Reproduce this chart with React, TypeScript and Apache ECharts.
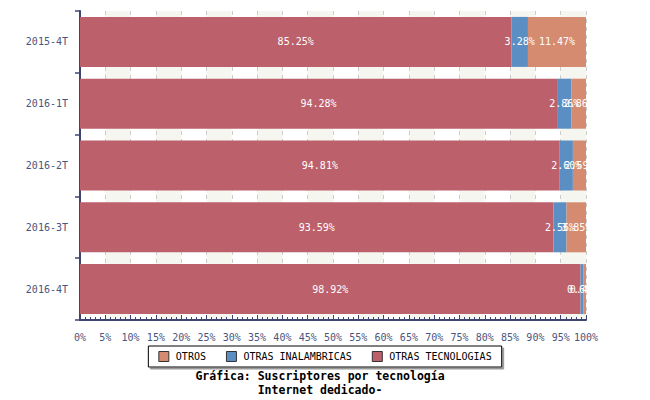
import React, { useEffect, useRef } from "react";
import * as echarts from "echarts";

const categories = ["2015-4T", "2016-1T", "2016-2T", "2016-3T", "2016-4T"];
const otrasTecnologias = [85.25, 94.28, 94.81, 93.59, 98.92];
const otrasInalambricas = [3.28, 2.86, 2.6, 2.56, 0.6];
const otros = [11.47, 2.86, 2.59, 3.85, 0.48];
const legendNames = ["OTROS", "OTRAS INALAMBRICAS", "OTRAS TECNOLOGIAS"];
const titleLines = ["Gráfica: Suscriptores por tecnología", "Internet dedicado-"];

const FONT = "'DejaVu Sans Mono', monospace";

export default function App() {
  const ref = useRef<HTMLDivElement>(null);
  useEffect(() => {
    if (!ref.current) return;
    const chart = echarts.init(ref.current, null, { renderer: "svg" });
    const label = {
      show: true,
      position: "inside",
      color: "#ffffff",
      fontFamily: FONT,
      fontSize: 10,
      formatter: (p: any) => Number(p.value).toFixed(2) + "%",
    };
    const mk = (name: string, data: number[], color: string) => ({
      name,
      type: "bar",
      stack: "total",
      data,
      barWidth: 50,
      itemStyle: { color },
      label,
      emphasis: { disabled: true },
    });
    chart.setOption({
      animation: false,
      grid: { left: 80, right: 64, top: 11, bottom: 80 },
      legend: {
        data: legendNames,
        left: "center",
        top: 346,
        orient: "horizontal",
        itemWidth: 10,
        itemHeight: 10,
        itemGap: 20,
        padding: [5, 10, 5, 10],
        borderColor: "#000000",
        borderWidth: 1,
        backgroundColor: "#ffffff",
        shadowColor: "#999999",
        shadowOffsetX: 2,
        shadowOffsetY: 2,
        shadowBlur: 0,
        icon: "rect",
        itemStyle: { borderColor: "#333333", borderWidth: 1 },
        textStyle: { fontFamily: FONT, fontSize: 10, color: "#000000", padding: [0, 0, 0, 2] },
        selectedMode: false,
      },
      xAxis: {
        type: "value",
        min: 0,
        max: 100,
        interval: 5,
        axisLine: { show: true, lineStyle: { color: "#3d4470", width: 2 } },
        axisTick: { show: true, inside: true, length: 5, lineStyle: { color: "#3d4470" } },
        minorTick: { show: true, splitNumber: 5, length: 3, lineStyle: { color: "#3d4470" } },
        axisLabel: {
          formatter: "{value}%",
          color: "#4a5580",
          fontFamily: FONT,
          fontSize: 10,
          margin: 12,
        },
        splitLine: { show: true, lineStyle: { color: "#cccccc", type: [4, 4], width: 1 } },
        splitArea: { show: true, areaStyle: { color: ["#ffffff", "#f6f6f0"] } },
      },
      yAxis: {
        type: "category",
        inverse: true,
        data: categories,
        axisLine: { show: true, lineStyle: { color: "#3d4470", width: 2 } },
        axisTick: { show: true, length: 5, lineStyle: { color: "#3d4470", width: 1.5 } },
        axisLabel: { color: "#4a5580", fontFamily: FONT, fontSize: 10, margin: 12 },
        splitLine: { show: true, lineStyle: { color: "#cccccc", type: [4, 4], width: 1 } },
      },
      series: [
        mk("OTRAS TECNOLOGIAS", otrasTecnologias, "#bc616b"),
        mk("OTRAS INALAMBRICAS", otrasInalambricas, "#5b8fc4"),
        mk("OTROS", otros, "#d58b70"),
      ],
      graphic: [
        {
          type: "text",
          x: 320,
          y: 369,
          style: {
            text: titleLines.join("\n"),
            fontFamily: FONT,
            fontSize: 11.5,
            fontWeight: "bold",
            fill: "#000000",
            align: "center",
            verticalAlign: "top",
            lineHeight: 14,
          },
        },
      ],
    });
    return () => chart.dispose();
  }, []);
  return (
    <div
      ref={ref}
      style={{ position: "absolute", left: 0, top: 0, width: 650, height: 400 }}
    />
  );
}
